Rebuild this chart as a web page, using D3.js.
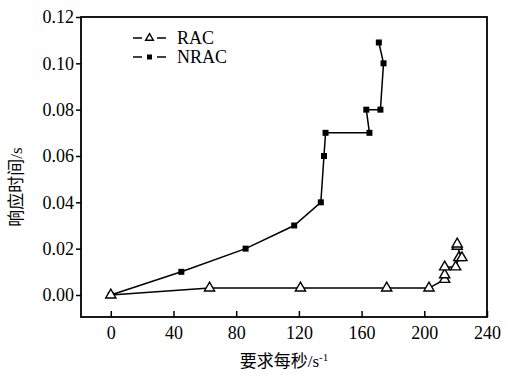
<!DOCTYPE html>
<html>
<head>
<meta charset="utf-8">
<script src="https://cdn.jsdelivr.net/npm/d3@7"></script>
<style>
  body { margin: 0; background: #fff; }
  svg { display: block; }
</style>
</head>
<body>
<div id="chart"></div>
<script>
// request rate (x) and response time (y) for each series
const racX  = [0, 63, 121, 176, 203, 213, 213, 213, 220, 222, 224, 221, 221];
const racY  = [0, 0.003, 0.003, 0.003, 0.003, 0.0067, 0.0087, 0.0121, 0.0121, 0.0161, 0.0161, 0.021, 0.022];
const nracX = [0, 45, 86, 117, 134, 136, 137, 165, 163, 172, 174, 171];
const nracY = [0, 0.010, 0.020, 0.030, 0.040, 0.060, 0.070, 0.070, 0.080, 0.080, 0.100, 0.109];
const xTicks = [0, 40, 80, 120, 160, 200, 240];
const yTicks = [0, 0.02, 0.04, 0.06, 0.08, 0.10, 0.12];
const seriesNames = ["RAC", "NRAC"];

const FONT = "Liberation Serif, Times New Roman, Noto Sans CJK SC, serif";
const width = 509, height = 375;
const margin = { top: 17, right: 22, bottom: 58, left: 81 };

const svg = d3.select("#chart").append("svg")
    .attr("width", width)
    .attr("height", height)
    .attr("font-family", FONT);

const x = d3.scaleLinear().domain([-19, 240]).range([margin.left, width - margin.right]);
const y = d3.scaleLinear().domain([-0.0095, 0.12]).range([height - margin.bottom, margin.top]);

// y axis, ticks outward
svg.append("g")
    .attr("transform", `translate(${margin.left},0)`)
    .call(d3.axisLeft(y).tickValues(yTicks).tickFormat(d3.format(".2f")).tickSize(5).tickPadding(2))
    .attr("font-family", FONT).attr("font-size", 18)
    .call(g => g.select(".domain").remove())
    .call(g => g.selectAll("line").attr("stroke-width", 1.5));

// x axis, ticks inward
svg.append("g")
    .attr("transform", `translate(0,${height - margin.bottom})`)
    .call(d3.axisBottom(x).tickValues(xTicks).tickSize(-6).tickPadding(9))
    .attr("font-family", FONT).attr("font-size", 18)
    .call(g => g.select(".domain").remove())
    .call(g => g.selectAll("line").attr("stroke-width", 1.5));

// frame
svg.append("rect")
    .attr("x", margin.left)
    .attr("y", margin.top)
    .attr("width", width - margin.left - margin.right)
    .attr("height", height - margin.top - margin.bottom)
    .attr("fill", "none")
    .attr("stroke", "#000")
    .attr("stroke-width", 1.8);

const line = d3.line().x(d => x(d[0])).y(d => y(d[1]));
const rac = racX.map((v, i) => [v, racY[i]]);
const nrac = nracX.map((v, i) => [v, nracY[i]]);

svg.append("path").datum(nrac)
    .attr("fill", "none").attr("stroke", "#000").attr("stroke-width", 1.5)
    .attr("d", line);
svg.append("path").datum(rac)
    .attr("fill", "none").attr("stroke", "#000").attr("stroke-width", 1.5)
    .attr("d", line);

const square = d3.symbol().type(d3.symbolSquare).size(36);
const tri = d3.symbol().type(d3.symbolTriangle).size(45);

svg.append("g").selectAll("path")
    .data(nrac)
    .enter()
    .append("path")
    .attr("transform", d => `translate(${x(d[0])},${y(d[1])})`)
    .attr("d", square)
    .attr("fill", "#000");

svg.append("g").selectAll("path")
    .data(rac)
    .enter()
    .append("path")
    .attr("transform", d => `translate(${x(d[0])},${y(d[1])})`)
    .attr("d", tri)
    .attr("fill", "#fff")
    .attr("stroke", "#000")
    .attr("stroke-width", 1.4);

// legend
const legend = svg.append("g").attr("transform", "translate(133,38)");
seriesNames.forEach((name, i) => {
    const row = legend.append("g").attr("transform", `translate(0,${i * 19})`);
    row.append("line").attr("x1", 0).attr("x2", 9).attr("stroke", "#000").attr("stroke-width", 1.5);
    row.append("line").attr("x1", 24).attr("x2", 33).attr("stroke", "#000").attr("stroke-width", 1.5);
    row.append("path")
        .attr("transform", "translate(16.5,0)")
        .attr("d", i === 0 ? d3.symbol().type(d3.symbolTriangle).size(26)() : d3.symbol().type(d3.symbolSquare).size(25)())
        .attr("fill", i === 0 ? "#fff" : "#000")
        .attr("stroke", "#000")
        .attr("stroke-width", i === 0 ? 1.4 : 0);
    row.append("text")
        .attr("x", 44)
        .attr("dy", "0.35em")
        .attr("font-size", 18)
        .text(name);
});

// axis titles
svg.append("text")
    .attr("transform", `translate(22,${(margin.top + height - margin.bottom) / 2 + 20}) rotate(-90)`)
    .attr("text-anchor", "middle")
    .attr("font-size", 17)
    .text("响应时间/s");

const xt = svg.append("text")
    .attr("x", 284)
    .attr("y", 367)
    .attr("text-anchor", "middle")
    .attr("font-size", 17);
xt.append("tspan").text("要求每秒/s");
xt.append("tspan").attr("dy", -6).attr("font-size", 11).text("-1");
</script>
</body>
</html>
